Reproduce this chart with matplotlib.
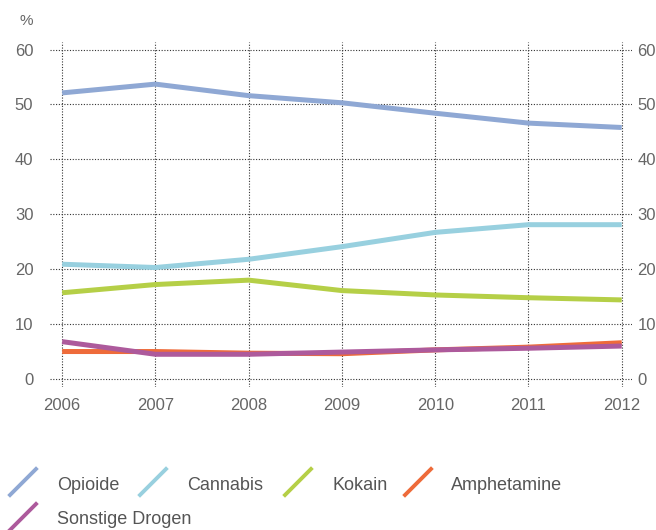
import matplotlib.pyplot as plt
from matplotlib.lines import Line2D

plt.rcParams['font.family'] = ['Liberation Sans', 'DejaVu Sans']

years = [2006, 2007, 2008, 2009, 2010, 2011, 2012]
opioide = [52.1, 53.7, 51.6, 50.3, 48.4, 46.6, 45.8]
cannabis = [20.9, 20.3, 21.8, 24.1, 26.7, 28.1, 28.1]
kokain = [15.7, 17.2, 18.0, 16.1, 15.3, 14.8, 14.4]
amphetamine = [5.0, 5.0, 4.7, 4.6, 5.3, 5.8, 6.6]
sonstige = [6.8, 4.5, 4.5, 4.9, 5.3, 5.6, 6.0]

names = ['Opioide', 'Cannabis', 'Kokain', 'Amphetamine', 'Sonstige Drogen']
series = [opioide, cannabis, kokain, amphetamine, sonstige]
colors = ['#8fa8d4', '#98d0df', '#b5cf47', '#ee6b3a', '#ad5a9c']
yticks = [0, 10, 20, 30, 40, 50, 60]

W, H = 656, 530
fig = plt.figure(figsize=(W / 100, H / 100), dpi=100)
ax = fig.add_axes([50 / W, 1 - 387 / H, 582 / W, 345 / H])

for vals, c, n in zip(series, colors, names):
    ax.plot(years, vals, color=c, lw=3.6, label=n, solid_capstyle='butt', zorder=3)

ax.set_xlim(2005.87, 2012.11)
ax.set_ylim(-1.46, 61.37)
ax.set_xticks(years)
ax.set_yticks(yticks)
ax.grid(True, linestyle=(0, (1, 1.5)), color='#333333', lw=0.8)
for s in ax.spines.values():
    s.set_visible(False)
ax.tick_params(axis='y', length=0, pad=12, labelsize=12, labelcolor='#666666')
ax.tick_params(axis='x', length=0, pad=8, labelsize=12, labelcolor='#666666')

ax2 = ax.twinx()
ax2.set_ylim(ax.get_ylim())
ax2.set_yticks(yticks)
for s in ax2.spines.values():
    s.set_visible(False)
ax2.tick_params(axis='y', length=0, pad=4, labelsize=12, labelcolor='#666666')

fig.text(20 / W, 1 - 21 / H, '%', fontsize=11, color='#666666', va='center', ha='left')

# legend drawn by hand with diagonal handles
pos = [(10, 485, 57), (140, 485, 187), (285, 485, 332), (405, 485, 451), (10, 520, 57)]
for (hx, ty, tx), c, n in zip(pos, colors, names):
    fig.add_artist(Line2D([hx / W, (hx + 26) / W], [1 - (ty + 10) / H, 1 - (ty - 16) / H],
                          color=c, lw=2.8, transform=fig.transFigure))
    fig.text(tx / W, 1 - ty / H, n, fontsize=13, color='#555555', va='center', ha='left')

fig.savefig('out.png', dpi=100)
